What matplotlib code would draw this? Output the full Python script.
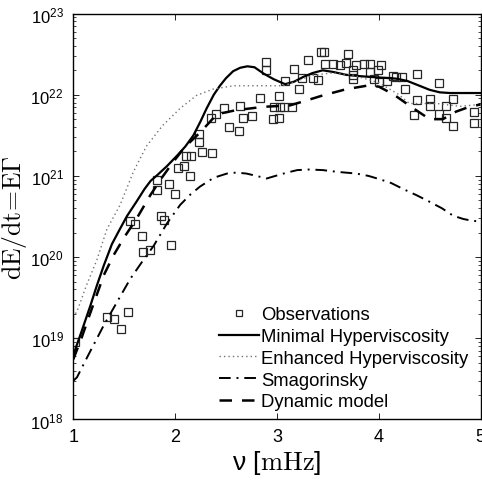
import matplotlib
matplotlib.use("Agg")
import matplotlib.pyplot as plt
import numpy as np
from matplotlib.ticker import LogLocator, FixedLocator, NullFormatter

plt.rcParams['font.family'] = ['Liberation Sans', 'DejaVu Sans']
plt.rcParams['mathtext.fontset'] = 'custom'
plt.rcParams['mathtext.rm'] = 'Liberation Sans'
plt.rcParams['mathtext.it'] = 'Liberation Sans:italic'
plt.rcParams['mathtext.default'] = 'regular'

# observations (frequency in mHz, dE/dt)
obs_nu = [1.02, 1.328, 1.402, 1.471, 1.535, 1.558, 1.611, 1.671, 1.680, 1.749,
          1.818, 1.818, 1.862, 1.895, 1.944, 1.961, 2.000, 2.029, 2.084, 2.148,
          2.108, 2.160, 2.238, 2.238, 2.268, 2.366, 2.349, 2.405, 2.484, 2.534,
          2.624, 2.642, 2.664, 2.760, 2.836, 2.895, 2.895, 2.959, 3.019, 2.975,
          3.028, 3.065, 3.152, 3.020, 3.084, 3.172, 3.219, 3.244, 3.308, 3.357,
          3.403, 3.429, 3.460, 3.475, 3.547, 3.622, 3.677, 3.701, 3.750, 3.780,
          3.750, 3.750, 3.860, 3.911, 3.914, 3.952, 3.993, 4.019, 3.999, 4.078,
          4.141, 4.173, 4.225, 4.254, 4.377, 4.594, 4.377, 4.343, 4.501, 4.501,
          4.596, 4.662, 4.663, 4.726, 4.726, 4.933, 4.933]
obs_val = [9.0e18, 1.84e19, 1.74e19, 1.29e19, 2.10e19, 2.79e20, 2.57e20, 1.82e20, 1.17e20, 1.24e20,
           8.95e20, 6.68e20, 3.20e20, 2.86e20, 7.89e20, 1.42e20, 5.93e20, 1.26e21, 1.31e21, 9.95e20,
           1.75e21, 1.75e21, 2.65e21, 3.30e21, 1.96e21, 1.91e21, 5.16e21, 5.78e21, 6.84e21, 4.00e21,
           3.62e21, 7.29e21, 5.16e21, 5.45e21, 9.08e21, 2.52e22, 2.03e22, 5.01e21, 5.16e21, 7.10e21,
           7.10e21, 7.10e21, 7.10e21, 9.68e21, 1.47e22, 2.08e22, 1.18e22, 1.63e22, 2.69e22, 1.59e22,
           1.52e22, 3.35e22, 3.35e22, 2.37e22, 2.37e22, 2.31e22, 2.49e22, 3.17e22, 2.01e22, 2.33e22,
           1.56e22, 1.77e22, 2.39e22, 2.39e22, 1.90e22, 1.55e22, 1.99e22, 2.33e22, 1.44e22, 1.46e22,
           1.72e22, 1.65e22, 1.67e22, 1.18e22, 1.78e22, 1.39e22, 8.59e21, 5.65e21, 8.91e21, 7.36e21,
           5.82e21, 7.36e21, 5.16e21, 8.83e21, 4.10e21, 6.11e21, 4.55e21]

# Minimal Hyperviscosity
min_nu = [1.0, 1.08, 1.167, 1.23, 1.30, 1.38, 1.46, 1.53, 1.62, 1.70, 1.76, 1.82, 1.92, 2.02,
          2.10, 2.18, 2.25, 2.31, 2.38, 2.44, 2.50, 2.57, 2.64, 2.71, 2.78, 2.87, 2.97, 3.08,
          3.17, 3.26, 3.35, 3.45, 3.56, 3.68, 3.80, 3.91, 4.04, 4.17, 4.28, 4.40, 4.50, 4.60,
          4.70, 4.85, 5.0]
min_val = [6.2e18, 1.2e19, 2.5e19, 4.4e19, 7.9e19, 1.45e20, 2.24e20, 3.24e20, 4.8e20, 6.9e20,
           8.7e20, 1.01e21, 1.32e21, 1.78e21, 2.3e21, 3.16e21, 4.7e21, 6.8e21, 1.0e22, 1.29e22,
           1.6e22, 1.95e22, 2.15e22, 2.24e22, 2.18e22, 1.82e22, 1.55e22, 1.35e22, 1.45e22, 1.66e22,
           1.85e22, 2.0e22, 1.9e22, 1.76e22, 1.7e22, 1.66e22, 1.62e22, 1.58e22, 1.48e22, 1.29e22,
           1.15e22, 1.07e22, 1.05e22, 1.05e22, 1.05e22]

# Enhanced Hyperviscosity
enh_nu = [1.0, 1.04, 1.13, 1.23, 1.33, 1.46, 1.59, 1.72, 1.88, 2.05, 2.21, 2.37, 2.57, 2.8,
          3.06, 3.2, 3.35, 3.55, 3.75, 4.0, 4.2, 4.3, 4.57, 4.8, 5.0]
enh_val = [1.8e19, 2.2e19, 4.5e19, 9.1e19, 2.2e20, 4.4e20, 1.12e21, 2.34e21, 4.2e21, 6.8e21,
           9.8e21, 1.17e22, 1.29e22, 1.29e22, 1.29e22, 1.48e22, 1.74e22, 1.86e22, 1.74e22, 1.41e22,
           1.0e22, 7.8e21, 7.8e21, 7.2e21, 7.6e21]

# Smagorinsky
sma_nu = [1.0, 1.036, 1.15, 1.30, 1.43, 1.56, 1.68, 1.79, 1.92, 2.05, 2.15, 2.245, 2.38, 2.51,
          2.60, 2.70, 2.80, 2.90, 2.96, 3.10, 3.20, 3.32, 3.45, 3.60, 3.78, 3.90, 4.01, 4.12,
          4.24, 4.37, 4.50, 4.62, 4.73, 4.83, 4.92, 5.0]
sma_val = [3.0e18, 3.3e18, 6.3e18, 1.45e19, 2.8e19, 5.4e19, 8.9e19, 1.38e20, 2.6e20, 4.4e20,
           5.9e20, 7.4e20, 9.5e20, 1.07e21, 1.1e21, 1.07e21, 1.0e21, 9.3e20, 9.8e20, 1.1e21,
           1.18e21, 1.2e21, 1.18e21, 1.12e21, 1.07e21, 1.0e21, 9.1e20, 8.2e20, 6.9e20, 5.8e20,
           4.8e20, 4.0e20, 3.24e20, 2.95e20, 2.8e20, 2.75e20]

# Dynamic model
dyn_nu = [1.0, 1.08, 1.17, 1.30, 1.395, 1.50, 1.62, 1.755, 1.87, 1.98, 2.10, 2.25, 2.41,
          2.60, 2.87, 3.13, 3.29, 3.45, 3.68, 3.88, 4.0, 4.14, 4.34, 4.50, 4.63, 4.76, 4.89, 5.0]
dyn_val = [5.5e18, 1.0e19, 2.1e19, 6.0e19, 1.05e20, 1.75e20, 2.95e20, 5.75e20, 9.5e20, 1.48e21,
           2.3e21, 3.47e21, 5.75e21, 6.46e21, 7.1e21, 7.4e21, 8.5e21, 9.8e21, 1.17e22, 1.29e22,
           1.26e22, 1.02e22, 6.8e21, 5.0e21, 5.0e21, 6.2e21, 7.1e21, 7.6e21]

fig = plt.figure(figsize=(4.82, 4.85), dpi=100)
ax = fig.add_axes([0.152, 0.133, 0.845, 0.837])

ax.plot(obs_nu, obs_val, 's', ms=6.2, mfc='none', mec='0.15', mew=0.9, label='Observations')
ax.plot(min_nu, min_val, '-', color='k', lw=1.6, label='Minimal Hyperviscosity')
ax.plot(enh_nu, enh_val, color='0.45', lw=1.0, ls=(0, (1, 2.2)), label='Enhanced Hyperviscosity')
ax.plot(sma_nu, sma_val, color='k', lw=1.4, ls=(0, (6, 3, 1, 3)), label='Smagorinsky')
ax.plot(dyn_nu, dyn_val, color='k', lw=1.8, ls=(0, (5, 4)), label='Dynamic model')

ax.set_yscale('log')
ax.set_xlim(1, 5)
ax.set_ylim(1e18, 1e23)
ax.xaxis.set_major_locator(FixedLocator([1, 2, 3, 4, 5]))
ax.yaxis.set_major_locator(LogLocator(base=10, numticks=10))
ax.yaxis.set_minor_locator(LogLocator(base=10, subs=np.arange(2, 10), numticks=20))
ax.yaxis.set_minor_formatter(NullFormatter())
ax.tick_params(which='both', direction='in', top=True, right=True)
ax.tick_params(which='major', length=4, width=0.6)
ax.tick_params(which='minor', length=2, width=0.5)
ax.tick_params(axis='x', pad=6, labelsize=13)
ax.tick_params(axis='y', pad=7, labelsize=12)
for s in ax.spines.values():
    s.set_linewidth(1.0)

ax.set_xlabel(r'$\nu\ [\mathrm{mHz}]$', fontsize=19, math_fontfamily='cm', labelpad=2)
ax.set_ylabel(r'$\mathrm{dE/dt\!=\!E\Gamma}$', fontsize=18.5, math_fontfamily='cm')
ax.yaxis.set_label_coords(-0.108, 0.5)

leg = ax.legend(loc='lower right', bbox_to_anchor=(0.988, 0.004), frameon=False, fontsize=13.3,
                handlelength=2.2, handletextpad=0.1, labelspacing=0.26, markerscale=0.6,
                borderaxespad=0)

fig.savefig('out.png', dpi=100)
